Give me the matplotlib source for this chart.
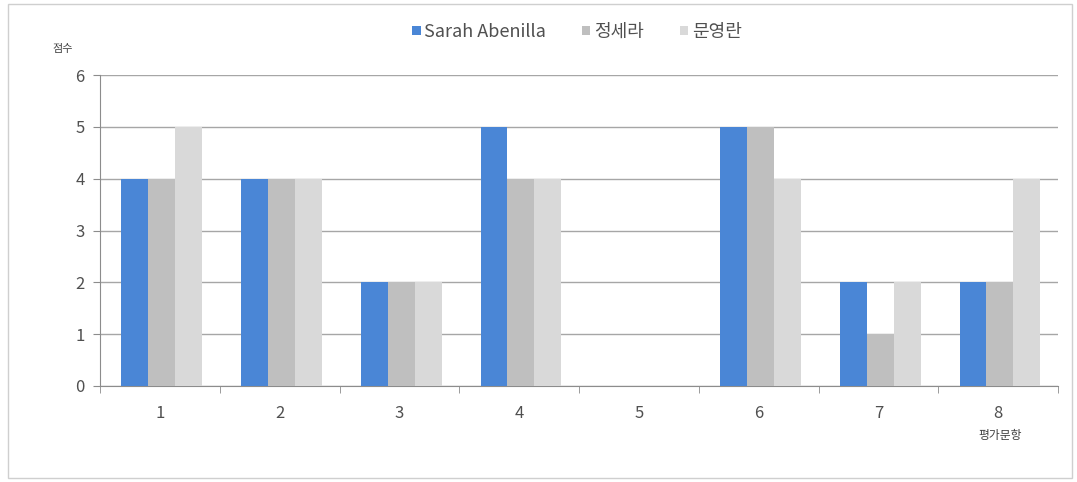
import matplotlib
matplotlib.use("Agg")
import matplotlib.pyplot as plt
import numpy as np
from matplotlib.patches import Rectangle

plt.rcParams['font.family'] = ['Noto Sans CJK KR', 'DejaVu Sans']

categories = ['1', '2', '3', '4', '5', '6', '7', '8']
series_names = ['Sarah Abenilla', '정세라', '문영란']
sarah = [4, 4, 2, 5, 0, 5, 2, 2]
jung = [4, 4, 2, 4, 0, 5, 1, 2]
moon = [5, 4, 2, 4, 0, 4, 2, 4]
colors = ['#4a86d6', '#bfbfbf', '#d9d9d9']

fig = plt.figure(figsize=(10.77, 4.82), dpi=100)
fig.patches.append(Rectangle((8/1077, 4/482), 1064/1077, 474/482, transform=fig.transFigure,
                             fill=False, edgecolor='#cfcfcf', linewidth=1.0))
ax = fig.add_axes([100/1077, 1 - 386/482, 958/1077, 311/482])

x = np.arange(1, len(categories) + 1)
w = 0.225
for i, (vals, c, name) in enumerate(zip([sarah, jung, moon], colors, series_names)):
    ax.bar(x + (i - 1) * w + 0.015, vals, width=w, color=c, label=name, zorder=3)

ax.set_xlim(0.5, 8.5)
ax.set_ylim(0, 6)
ax.set_yticks(range(0, 7))
ax.yaxis.grid(True, color='#a6a6a6', linewidth=1.0, zorder=0)
ax.set_axisbelow(True)
for s in ['top', 'right']:
    ax.spines[s].set_visible(False)
ax.spines['left'].set_color('#8c8c8c')
ax.spines['bottom'].set_color('#8c8c8c')
ax.set_xticks(x)
ax.set_xticklabels(categories, fontsize=12, color='#505050')
ax.set_xticks(np.arange(0.5, 9.0, 1.0), minor=True)
ax.tick_params(axis='x', which='major', length=0, pad=14)
ax.tick_params(axis='x', which='minor', length=5, color='#8c8c8c')
ax.tick_params(axis='y', length=5, color='#8c8c8c', labelsize=12, labelcolor='#505050', pad=6)

fig.text(63/1077, 1 - 49/482, '점수', fontsize=8, ha='center', va='center', color='#404040')
fig.text(1000/1077, 1 - 436/482, '평가문항', fontsize=8.5, ha='center', va='center', color='#404040')

leg = fig.legend(loc='center', bbox_to_anchor=(577/1077, 1 - 32/482), ncol=3, frameon=False,
                 fontsize=13, handlelength=0.45, handleheight=0.45, handletextpad=0.2,
                 columnspacing=2.0)
for t in leg.get_texts():
    t.set_color('#505050')

fig.savefig('out.png', dpi=100)
